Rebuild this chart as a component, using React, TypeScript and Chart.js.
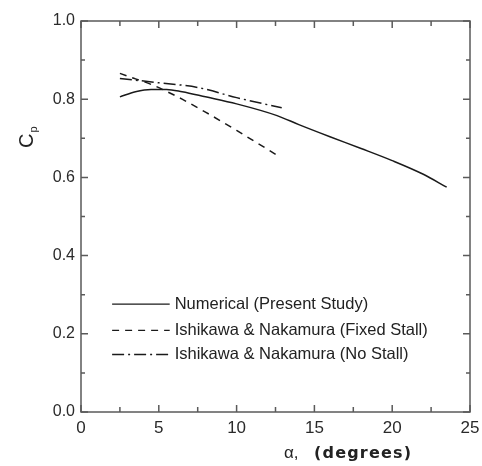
import React, { useEffect, useRef } from "react";
import { Chart, registerables } from "chart.js";

Chart.register(...registerables);

const alphaNumerical = [2.5, 3.5, 4.5, 5.5, 6.5, 8, 10, 12.6, 14, 16, 18, 20, 22, 23.5];
const cpNumerical = [0.806, 0.819, 0.825, 0.825, 0.819, 0.806, 0.788, 0.758, 0.735, 0.704, 0.674, 0.643, 0.608, 0.575];

const alphaFixedStall = [2.5, 3.5, 4.5, 5.5, 6.5, 8, 10, 12.8];
const cpFixedStall = [0.866, 0.852, 0.838, 0.82, 0.8, 0.767, 0.72, 0.652];

const alphaNoStall = [2.5, 5, 7.5, 10, 12.9];
const cpNoStall = [0.853, 0.842, 0.83, 0.804, 0.778];

const xTickLabels = ["0", "5", "10", "15", "20", "25"];

const seriesLabels = [
  "Numerical (Present Study)",
  "Ishikawa & Nakamura (Fixed Stall)",
  "Ishikawa & Nakamura (No Stall)",
];

const xTitle = "α, (degrees)";
const yTitleMain = "C";
const yTitleSub = "p";

const LINE = "#1a1a1a";
const AXIS = "#5a5a5a";

const dashes: number[][] = [[], [7, 6], [12, 4, 2, 4]];

const framePlugin = {
  id: "frame",
  afterDraw(chart: any) {
    const { ctx, chartArea } = chart;
    const xs = chart.scales.x;
    const ys = chart.scales.y;
    const { left, right, top, bottom } = chartArea;
    ctx.save();
    ctx.strokeStyle = AXIS;
    ctx.lineWidth = 1.5;
    ctx.setLineDash([]);
    ctx.strokeRect(left, top, right - left, bottom - top);
    // inner ticks
    for (let i = 0; i <= 10; i++) {
      const v = i / 10;
      const y = ys.getPixelForValue(v);
      const len = i % 2 === 0 ? 7 : 4;
      ctx.beginPath();
      ctx.moveTo(left, y);
      ctx.lineTo(left + len, y);
      ctx.moveTo(right, y);
      ctx.lineTo(right - len, y);
      ctx.stroke();
    }
    for (let i = 0; i <= 10; i++) {
      const v = i * 2.5;
      const x = xs.getPixelForValue(v);
      const len = i % 2 === 0 ? 7 : 5;
      ctx.beginPath();
      ctx.moveTo(x, bottom);
      ctx.lineTo(x, bottom - len);
      ctx.moveTo(x, top);
      ctx.lineTo(x, top + len);
      ctx.stroke();
    }
    // x tick labels
    ctx.font = "17px 'Liberation Sans', Arial, sans-serif";
    ctx.fillStyle = "#2a2a2a";
    ctx.textAlign = "center";
    ctx.textBaseline = "middle";
    xTickLabels.forEach((t) => {
      ctx.fillText(t, xs.getPixelForValue(Number(t)), bottom + 16);
    });
    // legend
    const lx0 = xs.getPixelForValue(2);
    const lx1 = xs.getPixelForValue(5.7);
    const rows = [0.276, 0.209, 0.147];
    ctx.font = "16.5px 'Liberation Sans', Arial, sans-serif";
    ctx.fillStyle = "#222";
    ctx.textBaseline = "middle";
    ctx.textAlign = "left";
    rows.forEach((rv, i) => {
      const y = ys.getPixelForValue(rv);
      ctx.beginPath();
      ctx.strokeStyle = LINE;
      ctx.lineWidth = 1.3;
      ctx.setLineDash(dashes[i]);
      ctx.moveTo(lx0, y);
      ctx.lineTo(lx1, y);
      ctx.stroke();
      ctx.setLineDash([]);
      ctx.fillText(seriesLabels[i], lx1 + 5, y);
    });
    // axis titles
    ctx.fillStyle = "#222";
    ctx.textBaseline = "alphabetic";
    ctx.font = "17px 'Liberation Sans', Arial, sans-serif";
    const parts = xTitle.split(" ");
    const ty = 458;
    ctx.fillText(parts[0], 284, ty);
    ctx.font = "bold 16px 'DejaVu Sans', sans-serif";
    (ctx as any).letterSpacing = "1.2px";
    ctx.fillText(parts[1], 314, ty);
    (ctx as any).letterSpacing = "0px";
    // y title rotated
    ctx.translate(33, 148);
    ctx.rotate(-Math.PI / 2);
    ctx.font = "20px 'Liberation Sans', Arial, sans-serif";
    ctx.fillText(yTitleMain, 0, 0);
    const w = ctx.measureText(yTitleMain).width;
    ctx.font = "11px 'Liberation Sans', Arial, sans-serif";
    ctx.fillText(yTitleSub, w + 1, 4);
    ctx.restore();
  },
};

export default function App() {
  const ref = useRef<HTMLCanvasElement | null>(null);
  useEffect(() => {
    if (!ref.current) return;
    const mk = (xs: number[], ys: number[], label: string, dash: number[]) => ({
      label,
      data: xs.map((x, i) => ({ x, y: ys[i] })),
      borderColor: LINE,
      borderWidth: 1.5,
      borderDash: dash,
      pointRadius: 0,
      fill: false,
      cubicInterpolationMode: "monotone" as const,
      showLine: true,
    });
    const chart = new Chart(ref.current, {
      type: "scatter",
      data: {
        datasets: [
          mk(alphaNumerical, cpNumerical, seriesLabels[0], dashes[0]),
          mk(alphaFixedStall, cpFixedStall, seriesLabels[1], dashes[1]),
          mk(alphaNoStall, cpNoStall, seriesLabels[2], dashes[2]),
        ],
      },
      options: {
        animation: false,
        responsive: false,
        maintainAspectRatio: false,
        layout: { padding: { top: 21, right: 12, left: 0, bottom: 0 } },
        plugins: { legend: { display: false }, tooltip: { enabled: false } },
        scales: {
          x: {
            type: "linear",
            min: 0,
            max: 25,
            grid: { display: false, drawTicks: false },
            border: { display: false },
            ticks: { display: false, stepSize: 5 },
            afterFit: (s: any) => {
              s.height = 54;
            },
          },
          y: {
            type: "linear",
            min: 0,
            max: 1,
            grid: { display: false, drawTicks: false },
            border: { display: false },
            ticks: {
              stepSize: 0.2,
              padding: 6,
              color: "#2a2a2a",
              font: { family: "'Liberation Sans', Arial, sans-serif", size: 16 },
              callback: (v: any) => Number(v).toFixed(1),
            },
            afterFit: (s: any) => {
              s.width = 81;
            },
          },
        },
      },
      plugins: [framePlugin],
    });
    return () => chart.destroy();
  }, []);
  return (
    <div style={{ position: "fixed", left: 0, top: 0, width: 482, height: 466, background: "#fff" }}>
      <canvas ref={ref} width={482} height={466} style={{ width: 482, height: 466 }} />
    </div>
  );
}
